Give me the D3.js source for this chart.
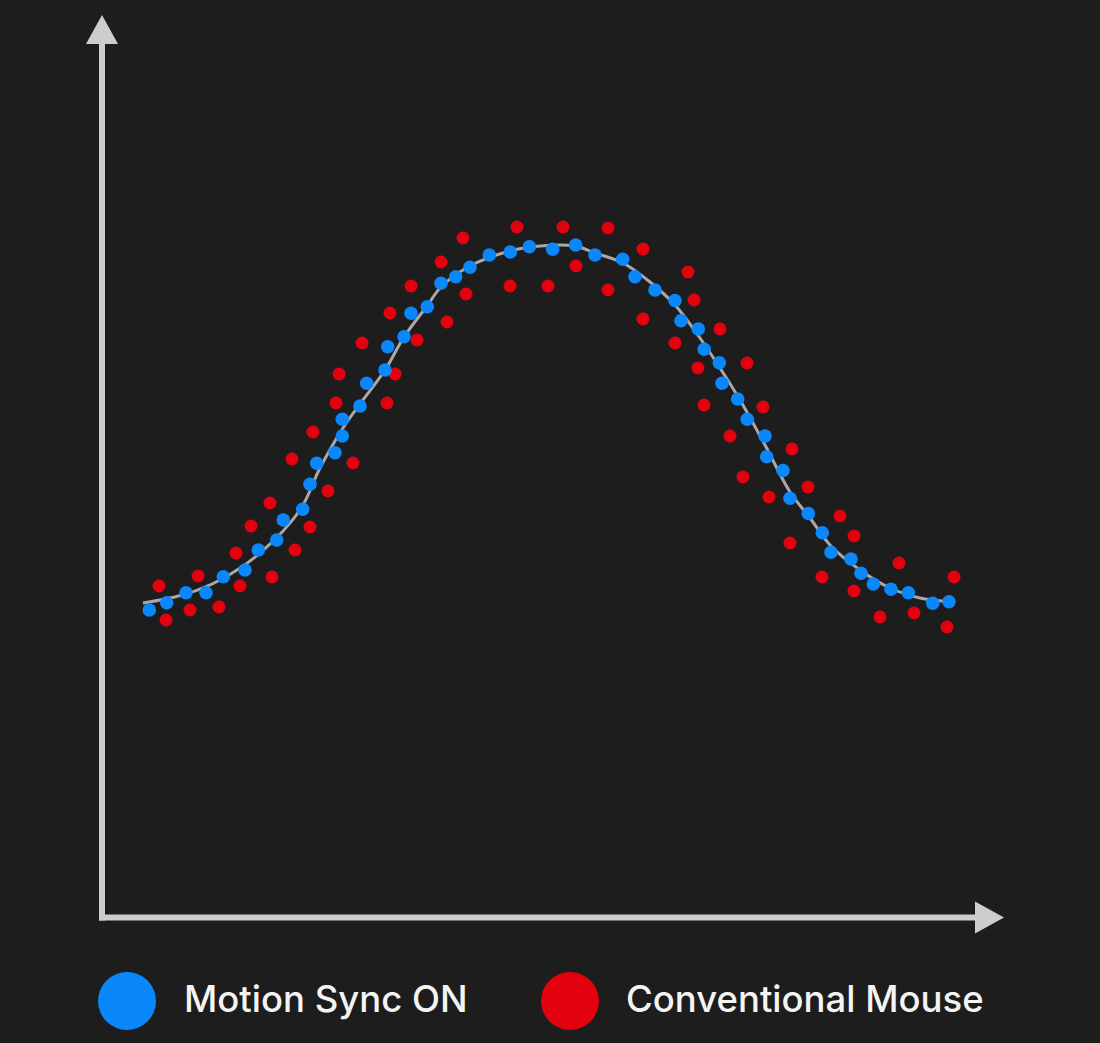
<!DOCTYPE html>
<html>
<head>
<meta charset="utf-8">
<script src="https://cdn.jsdelivr.net/npm/d3@7"></script>
<style>
  html, body { margin: 0; padding: 0; background: #1d1d1d; }
  svg { display: block; }
</style>
</head>
<body>
<svg id="chart" width="1100" height="1043"></svg>
<script>
// ---- data (units: arbitrary 0..90 on both axes) ----
const seriesNames = ["Motion Sync ON", "Conventional Mouse"];

const motionSyncX = [4.93,6.67,8.6,10.6,12.33,14.5,15.83,17.67,18.33,20.27,21.0,21.67,23.5,24.23,24.23,26.0,26.67,28.5,28.77,30.4,31.1,32.73,34.1,35.57,37.0,38.93,41.03,42.93,45.27,47.57,49.5,52.27,53.5,55.5,57.5,58.1,59.83,60.42,61.93,62.2,63.77,64.73,66.5,66.67,68.3,69.0,70.83,72.23,73.1,75.1,76.1,77.33,79.1,80.83,83.27,84.9];
const motionSyncY = [30.7,31.43,32.43,32.43,34.03,34.7,36.7,37.7,39.7,40.77,43.27,45.37,46.43,48.1,49.77,51.1,53.37,54.7,57.03,58.03,60.37,61.03,63.37,64.03,64.97,66.2,66.5,67.03,66.77,67.2,66.2,65.77,64.03,62.7,61.65,59.63,58.8,56.77,55.43,53.37,51.8,49.77,48.1,46.03,44.65,41.87,40.35,38.43,36.47,35.8,34.37,33.3,32.77,32.43,31.37,31.53];

const conventionalX = [5.9,6.6,9.0,9.8,11.9,13.6,14.0,15.1,17.0,17.2,19.2,19.5,21.0,21.3,22.8,23.6,23.9,25.3,26.2,28.7,29.0,29.5,31.1,31.7,34.1,34.7,36.3,36.6,41.0,41.7,44.8,46.3,47.6,50.8,50.8,54.3,54.3,57.5,58.8,59.4,59.8,60.4,62.0,63.0,64.3,64.7,66.3,66.9,69.0,69.2,70.8,72.2,74.0,75.4,75.4,78.0,79.9,81.4,84.7,85.4];
const conventionalY = [33.1,29.7,30.7,34.1,31.0,36.4,33.1,39.1,41.4,34.0,45.8,36.7,39.0,48.5,42.6,51.4,54.3,45.4,57.4,51.4,60.4,54.3,63.1,57.7,65.5,59.5,67.9,62.3,63.1,69.0,63.1,69.0,65.1,68.9,62.7,66.8,59.8,57.4,64.5,61.7,54.9,51.2,58.8,48.1,44.0,55.4,51.0,42.0,37.4,46.8,43.0,34.0,40.1,38.1,32.6,30.0,35.4,30.4,29.0,34.0];

const trendX = [4.3,8.6,12.0,16.0,20.0,22.0,24.3,26.0,28.5,30.4,32.7,34.1,37.0,41.0,44.0,47.5,49.5,52.3,55.0,57.5,60.0,62.0,64.0,66.5,69.0,71.0,73.0,76.0,79.0,82.0,85.5];
const trendY = [31.4,32.3,33.7,36.4,40.7,44.9,48.9,51.3,54.7,58.0,61.1,63.0,65.1,66.6,67.1,67.1,66.4,65.4,63.5,61.2,57.9,54.9,51.7,47.2,42.5,39.9,37.2,34.7,32.9,31.9,31.5];

// ---- layout ----
const W = 1100, H = 1043;
const colors = { blue: "#0a87fb", red: "#e3000f", axis: "#cdcdcd", trend: "#a9a9a9", text: "#f4f4f4" };

const x = d3.scaleLinear().domain([0, 90]).range([100, 1000]);
const y = d3.scaleLinear().domain([0, 90]).range([917, 17]);

const svg = d3.select("#chart");
svg.append("rect").attr("width", W).attr("height", H).attr("fill", "#1d1d1d");

// axes with arrowheads
const ox = 102, oy = 917.5;
const axes = svg.append("g").attr("fill", colors.axis).attr("stroke", colors.axis);
axes.append("line").attr("x1", ox).attr("y1", oy + 3).attr("x2", ox).attr("y2", 40)
  .attr("stroke-width", 6).attr("fill", "none");
axes.append("line").attr("x1", ox - 3).attr("y1", oy).attr("x2", 978).attr("y2", oy)
  .attr("stroke-width", 6).attr("fill", "none");
axes.append("path").attr("stroke", "none")
  .attr("d", `M${ox},15 L${ox + 16},44 L${ox - 16},44 Z`);
axes.append("path").attr("stroke", "none")
  .attr("d", `M1004,${oy} L975,${oy - 16} L975,${oy + 16} Z`);

// trend line
const line = d3.line().x(d => x(d[0])).y(d => y(d[1])).curve(d3.curveCatmullRom.alpha(0.5));
svg.append("path")
  .datum(trendX.map((v, i) => [v, trendY[i]]))
  .attr("d", line)
  .attr("fill", "none").attr("stroke", colors.trend).attr("stroke-width", 3);

// conventional mouse points
svg.append("g").selectAll("circle")
  .data(conventionalX.map((v, i) => [v, conventionalY[i]]))
  .join("circle")
  .attr("cx", d => x(d[0])).attr("cy", d => y(d[1])).attr("r", 6.5)
  .attr("fill", colors.red);

// motion sync points
svg.append("g").selectAll("circle")
  .data(motionSyncX.map((v, i) => [v, motionSyncY[i]]))
  .join("circle")
  .attr("cx", d => x(d[0])).attr("cy", d => y(d[1])).attr("r", 6.8)
  .attr("fill", colors.blue);

// legend
const legend = [
  { name: seriesNames[0], color: colors.blue, cx: 127, tx: 184 },
  { name: seriesNames[1], color: colors.red, cx: 570, tx: 626 }
];
const lg = svg.append("g");
legend.forEach(l => {
  lg.append("circle").attr("cx", l.cx).attr("cy", 1001).attr("r", 29).attr("fill", l.color);
  lg.append("text").attr("x", l.tx).attr("y", 1012)
    .attr("fill", colors.text)
    .attr("font-family", "Inter, 'Noto Sans', sans-serif")
    .attr("font-size", 36.5).attr("font-weight", 500)
    .text(l.name);
});
</script>
</body>
</html>
